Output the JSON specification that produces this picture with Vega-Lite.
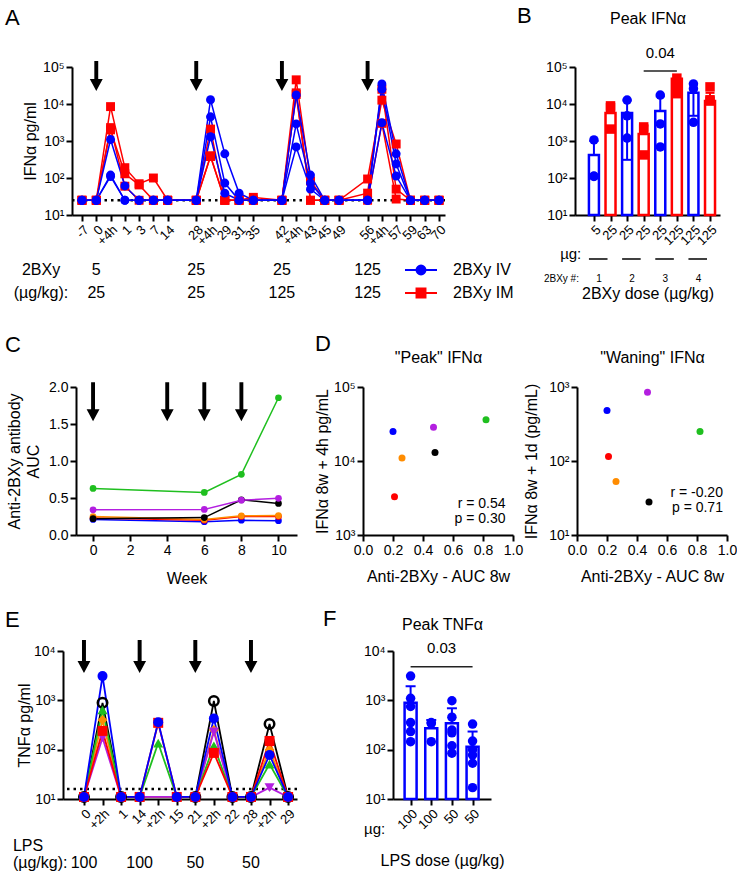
{
"$schema":"https://vega.github.io/schema/vega-lite/v6.json",
"background":"white",
"padding":5,
"spacing":31,
"resolve":{"scale":{"color":"independent","shape":"independent","stroke":"independent","fill":"independent","strokeWidth":"independent"},"legend":{"color":"independent","shape":"independent","stroke":"independent","fill":"independent"}},
"vconcat":[
{"hconcat":[
{"width":9,"height":1,"data":{"values":[]},"mark":"point"},
{"hconcat":[
{"width":373,"height":148,
"title":{"text":"A","dx":-67,"offset":30},
"layer":[
{"data":{"values":[{}]},"mark":{"type":"rule","strokeDash":[2.5,4],"strokeWidth":2.5,"color":"#000"},"encoding":{"y":{"datum":25,"axis":null}}},
{"data":{"name":"A"},"mark":{"type":"line","strokeWidth":1.5},
"encoding":{
"x":{"field":"p","type":"quantitative","scale":{"domain":[-0.7,25.42],"nice":false,"zero":false},
"axis":{"values":[0,1,2,3,4,5,6,8,9,10,11,12,14,15,16,17,18,20,21,22,23,24,25],"labelExpr":"['-7','0','+4h','1','3','7','14','','28','+4h','29','31','35','','42','+4h','43','45','49','','56','+4h','57','59','63','70'][datum.value]","labelAngle":-45,"labelFontSize":13,"labelOverlap":false,"title":null}},
"y":{"field":"v","type":"quantitative","scale":{"type":"log","domain":[10,100000],"nice":false},"axis":{"values":[10,100,1000,10000,100000],"labelExpr":"'10' + ['⁰','¹','²','³','⁴','⁵','⁶'][round(log(datum.value)/LN10)]","labelOverlap":false,"title":"IFNα pg/ml","titlePadding":4}},
"color":{"field":"r","type":"nominal","scale":{"domain":["IV","IM"],"range":["#0000ff","#ff0000"]},"legend":null},
"detail":{"field":"a","type":"nominal"}}},
{"data":{"name":"A"},"mark":{"type":"point","filled":true,"size":80,"opacity":1},
"encoding":{
"x":{"field":"p","type":"quantitative","axis":null},
"y":{"field":"v","type":"quantitative","axis":null},
"color":{"field":"r","type":"nominal","legend":null},
"shape":{"field":"r","type":"nominal","scale":{"domain":["IV","IM"],"range":["circle","square"]},"legend":null}}},
{"data":{"name":"A"},"transform":[{"filter":"false"}],"mark":{"type":"point","filled":true,"opacity":1,"strokeWidth":2},
"encoding":{
"x":{"field":"p","type":"quantitative","axis":null},
"y":{"field":"v","type":"quantitative","axis":null},
"fill":{"field":"r","type":"nominal","scale":{"domain":["IV","IM"],"range":["#0000ff","#ff0000"]},"legend":{"orient":"none","legendX":340,"legendY":194,"title":null,"labelFontSize":16,"symbolSize":256,"rowPadding":5,"labelOffset":23,"padding":0,"symbolStrokeWidth":2,"symbolOpacity":1,"labelExpr":"'2BXy ' + datum.label"}},
"stroke":{"field":"r","type":"nominal","scale":{"domain":["IV","IM"],"range":["#0000ff","#ff0000"]},"legend":{"orient":"none","legendX":340,"legendY":194,"title":null,"labelFontSize":16,"symbolSize":256,"rowPadding":5,"labelOffset":23,"padding":0,"symbolStrokeWidth":2,"symbolOpacity":1,"labelExpr":"'2BXy ' + datum.label"}},
"shape":{"field":"r","type":"nominal","scale":{"domain":["IV","IM"],"range":["M-2,0L2,0M0.56,0A0.56,0.56,0,1,1,-0.56,0A0.56,0.56,0,1,1,0.56,0Z","M-2,0L2,0M-0.56,-0.56L0.56,-0.56L0.56,0.56L-0.56,0.56Z"]},"legend":{"orient":"none","legendX":340,"legendY":194,"title":null,"labelFontSize":16,"symbolSize":256,"rowPadding":5,"labelOffset":23,"padding":0,"symbolStrokeWidth":2,"symbolOpacity":1,"labelExpr":"'2BXy ' + datum.label"}}}},
{"data":{"name":"A_doses"},"mark":{"type":"point","shape":"M-0.13,-1L0.13,-1L0.13,0.2L0.43,0.2L0,1L-0.43,0.2L-0.13,0.2Z","size":900,"filled":true,"color":"#000","opacity":1,"strokeWidth":0},
"encoding":{"x":{"field":"p","type":"quantitative","axis":null},"y":{"datum":57000,"axis":null}}},
{"data":{"name":"A_doses"},"mark":{"type":"text","fontSize":16},"encoding":{"x":{"field":"p","type":"quantitative","axis":null},"y":{"datum":0.327,"axis":null},"text":{"field":"iv"}}},
{"data":{"name":"A_doses"},"mark":{"type":"text","fontSize":16},"encoding":{"x":{"field":"p","type":"quantitative","axis":null},"y":{"datum":0.078,"axis":null},"text":{"field":"im"}}},
{"data":{"values":[{"t":"2BXy"}]},"mark":{"type":"text","fontSize":16},"encoding":{"x":{"datum":-2.87,"axis":null},"y":{"datum":0.327,"axis":null},"text":{"field":"t"}}},
{"data":{"values":[{"t":"(µg/kg):"}]},"mark":{"type":"text","fontSize":16},"encoding":{"x":{"datum":-2.87,"axis":null},"y":{"datum":0.078,"axis":null},"text":{"field":"t"}}}
],
"resolve":{"axis":{"x":"independent","y":"independent"},"scale":{"shape":"independent","fill":"independent","stroke":"independent"},"legend":{"shape":"independent","fill":"independent","stroke":"independent"}}},
{"width":145,"height":148,
"title":{"text":"B","dx":-58,"dy":18,"offset":0},
"layer":[
{"data":{"name":"B_bars"},"mark":{"type":"bar","fill":"#fff","strokeWidth":2.5,"width":10},
"encoding":{
"x":{"field":"pos","type":"quantitative","scale":{"domain":[0.16,8.3],"nice":false,"zero":false},"axis":{"values":[1,2,3,4,5,6,7,8],"labelExpr":"['5','25','25','25','25','125','125','125'][datum.value-1]","labelAngle":-45,"labelFontSize":13,"labelOverlap":false,"title":"2BXy dose (µg/kg)","titlePadding":38}},
"y":{"field":"mean","type":"quantitative","scale":{"type":"log","domain":[10,100000],"nice":false},"axis":{"values":[10,100,1000,10000,100000],"labelExpr":"'10' + ['⁰','¹','²','³','⁴','⁵','⁶'][round(log(datum.value)/LN10)]","labelOverlap":false,"title":null}},
"y2":{"datum":10},
"stroke":{"field":"route","type":"nominal","scale":{"domain":["IV","IM"],"range":["#0000ff","#ff0000"]},"legend":null}}},
{"data":{"name":"B_bars"},"mark":{"type":"rule","strokeWidth":2},
"encoding":{"x":{"field":"pos","type":"quantitative","axis":null},"y":{"field":"lo","type":"quantitative"},"y2":{"field":"hi"},
"color":{"field":"route","type":"nominal","scale":{"domain":["IV","IM"],"range":["#0000ff","#ff0000"]},"legend":null}}},
{"data":{"name":"B_bars"},"mark":{"type":"tick","orient":"horizontal","size":9,"thickness":2,"opacity":1},
"encoding":{"x":{"field":"pos","type":"quantitative","axis":null},"y":{"field":"hi","type":"quantitative"},"color":{"field":"route","type":"nominal","legend":null}}},
{"data":{"name":"B_bars"},"transform":[{"filter":"datum.lo < datum.mean"}],"mark":{"type":"tick","orient":"horizontal","size":9,"thickness":2,"opacity":1},
"encoding":{"x":{"field":"pos","type":"quantitative","axis":null},"y":{"field":"lo","type":"quantitative"},"color":{"field":"route","type":"nominal","legend":null}}},
{"data":{"name":"B_pts"},"mark":{"type":"point","filled":true,"size":90,"opacity":1},
"encoding":{"x":{"field":"pos","type":"quantitative","axis":null},"y":{"field":"v","type":"quantitative"},"color":{"field":"route","type":"nominal","legend":null},
"shape":{"field":"route","type":"nominal","scale":{"domain":["IV","IM"],"range":["circle","square"]},"legend":null}}},
{"data":{"values":[{"from":4,"to":6}]},"mark":{"type":"rule","strokeWidth":1.5,"color":"#222"},
"encoding":{"x":{"field":"from","type":"quantitative","axis":{"orient":"top","title":"Peak IFNα","labels":false,"ticks":false,"domain":false,"titlePadding":41,"titleFontSize":16}},"x2":{"field":"to"},"y":{"datum":78000}}},
{"data":{"values":[{"t":"0.04"}]},"mark":{"type":"text","fontSize":15},"encoding":{"x":{"datum":5,"axis":null},"y":{"datum":240000},"text":{"field":"t"}}},
{"data":{"values":[{"t":"µg:"}]},"mark":{"type":"text","fontSize":15},"encoding":{"x":{"datum":-0.4,"axis":null},"y":{"datum":0.88},"text":{"field":"t"}}},
{"data":{"values":[{"t":"2BXy #:"}]},"mark":{"type":"text","fontSize":10},"encoding":{"x":{"datum":-0.96,"axis":null},"y":{"datum":0.186},"text":{"field":"t"}}},
{"data":{"name":"B_groups"},"mark":{"type":"rule","strokeWidth":1.5,"color":"#000","xOffset":-5,"x2Offset":-3},"encoding":{"x":{"field":"from","type":"quantitative","axis":null},"x2":{"field":"to"},"y":{"datum":0.647}}},
{"data":{"name":"B_groups"},"mark":{"type":"text","fontSize":10,"dx":5},"encoding":{"x":{"field":"from","type":"quantitative","axis":null},"y":{"datum":0.186},"text":{"field":"g"}}}
],
"resolve":{"axis":{"x":"independent"}}}
],"spacing":130,"bounds":"flush","resolve":{"scale":{"color":"independent","shape":"independent","stroke":"independent","fill":"independent"},"legend":{"color":"independent","shape":"independent","stroke":"independent","fill":"independent"}}}
],"spacing":0,"bounds":"flush","resolve":{"scale":{"color":"independent","shape":"independent","stroke":"independent","fill":"independent"},"legend":{"color":"independent","shape":"independent","stroke":"independent","fill":"independent"}}},
{"vconcat":[
{"hconcat":[
{"width":13,"height":1,"data":{"values":[]},"mark":"point"},
{"hconcat":[
{"width":221,"height":148,
"title":{"text":"C","dx":-71,"offset":23},
"layer":[
{"data":{"name":"C"},"mark":{"type":"line"},
"encoding":{
"x":{"field":"week","type":"quantitative","scale":{"domain":[-0.92,11],"nice":false,"zero":false},"axis":{"values":[0,2,4,6,8,10],"labelOverlap":false,"title":"Week","titlePadding":13}},
"y":{"field":"auc","type":"quantitative","scale":{"domain":[0,2],"nice":false},"axis":{"values":[0,0.5,1,1.5,2],"format":".1f","labelOverlap":false,"title":["Anti-2BXy antibody","AUC"],"titlePadding":7,"titleLineHeight":19}},
"color":{"field":"a","type":"nominal","scale":{"domain":["blu","red","org","blk","pur","grn"],"range":["#0000ff","#ff0000","#ff8c00","#000000","#b31fe0","#1fbf1f"]},"legend":null},
"strokeWidth":{"field":"a","type":"nominal","scale":{"domain":["blu","red","org","blk","pur","grn"],"range":[1.5,1.5,3.5,3.5,1.5,1.5]},"legend":null}}},
{"data":{"name":"C"},"mark":{"type":"point","filled":true,"size":45,"opacity":1},
"encoding":{"x":{"field":"week","type":"quantitative","axis":null},"y":{"field":"auc","type":"quantitative","axis":null},"color":{"field":"a","type":"nominal","legend":null}}},
{"data":{"name":"C_arrows"},"mark":{"type":"point","shape":"M-0.1,-1L0.1,-1L0.1,0.38L0.33,0.38L0,1L-0.33,0.38L-0.1,0.38Z","size":1521,"filled":true,"color":"#000","opacity":1,"strokeWidth":0},
"encoding":{"x":{"field":"week","type":"quantitative","axis":null},"y":{"datum":1.8,"axis":null}}}
],
"resolve":{"axis":{"x":"independent","y":"independent"}}},
{"hconcat":[
{"width":150,"height":148,
"title":{"text":"D","dx":-48,"dy":7,"offset":0},
"layer":[
{"data":{"name":"D"},"mark":{"type":"point","filled":true,"size":49,"opacity":1},
"encoding":{
"x":{"field":"auc8","type":"quantitative","scale":{"domain":[0,1],"nice":false},"axis":{"values":[0,0.2,0.4,0.6,0.8,1],"format":".1f","labelOverlap":false,"title":"Anti-2BXy - AUC 8w","titlePadding":11}},
"y":{"field":"peak","type":"quantitative","scale":{"type":"log","domain":[1000,100000],"nice":false},"axis":{"values":[1000,10000,100000],"labelExpr":"'10' + ['⁰','¹','²','³','⁴','⁵','⁶'][round(log(datum.value)/LN10)]","labelOverlap":false,"title":"IFNα 8w + 4h pg/mL","titlePadding":3}},
"color":{"field":"a","type":"nominal","scale":{"domain":["blu","red","org","blk","pur","grn"],"range":["#0000ff","#ff0000","#ff8c00","#000000","#b31fe0","#1fbf1f"]},"legend":null}}},
{"data":{"values":[{"t":"r = 0.54\np = 0.30"}]},"mark":{"type":"text","fontSize":14,"align":"right","lineBreak":"\n","lineHeight":15},
"encoding":{"x":{"datum":0.95,"axis":{"orient":"top","title":"\"Peak\" IFNα","labels":false,"ticks":false,"domain":false,"titlePadding":22,"titleFontSize":16}},"y":{"datum":2625},"text":{"field":"t"}}}
],
"resolve":{"axis":{"x":"independent"}}},
{"width":150,"height":148,
"layer":[
{"data":{"name":"D"},"mark":{"type":"point","filled":true,"size":49,"opacity":1},
"encoding":{
"x":{"field":"auc8","type":"quantitative","scale":{"domain":[0,1],"nice":false},"axis":{"values":[0,0.2,0.4,0.6,0.8,1],"format":".1f","labelOverlap":false,"title":"Anti-2BXy - AUC 8w","titlePadding":11}},
"y":{"field":"wane","type":"quantitative","scale":{"type":"log","domain":[10,1000],"nice":false},"axis":{"values":[10,100,1000],"labelExpr":"'10' + ['⁰','¹','²','³','⁴','⁵','⁶'][round(log(datum.value)/LN10)]","labelOverlap":false,"title":"IFNα 8w + 1d (pg/mL)","titlePadding":9}},
"color":{"field":"a","type":"nominal","scale":{"domain":["blu","red","org","blk","pur","grn"],"range":["#0000ff","#ff0000","#ff8c00","#000000","#b31fe0","#1fbf1f"]},"legend":null}}},
{"data":{"values":[{"t":"r = -0.20\np = 0.71"}]},"mark":{"type":"text","fontSize":14,"align":"right","lineBreak":"\n","lineHeight":15},
"encoding":{"x":{"datum":0.973,"axis":{"orient":"top","title":"\"Waning\" IFNα","labels":false,"ticks":false,"domain":false,"titlePadding":22,"titleFontSize":16}},"y":{"datum":37},"text":{"field":"t"}}}
],
"resolve":{"axis":{"x":"independent"}}}
],"spacing":64,"bounds":"flush","resolve":{"scale":{"color":"independent","shape":"independent"},"legend":{"color":"independent"}}}
],"spacing":66,"bounds":"flush","resolve":{"scale":{"color":"independent","shape":"independent","strokeWidth":"independent"},"legend":{"color":"independent"}}}
],"spacing":0,"bounds":"flush","resolve":{"scale":{"color":"independent","shape":"independent","strokeWidth":"independent"},"legend":{"color":"independent"}}},
{"hconcat":[
{"width":234,"height":148,
"title":{"text":"E","dx":-58,"offset":8},
"layer":[
{"data":{"values":[{}]},"mark":{"type":"rule","strokeDash":[2.5,4],"strokeWidth":2.5,"color":"#000"},"encoding":{"y":{"datum":16,"axis":null}}},
{"data":{"name":"E"},"mark":{"type":"line","strokeWidth":1.8},
"encoding":{
"x":{"field":"p","type":"quantitative","scale":{"domain":[-1.13,11.48],"nice":false,"zero":false},"axis":{"values":[0,1,2,3,4,5,6,7,8,9,10,11],"labelExpr":"['0','+2h','1','14','+2h','15','21','+2h','22','28','+2h','29'][datum.value]","labelAngle":-45,"labelFontSize":13,"labelOverlap":false,"title":null}},
"y":{"field":"v","type":"quantitative","scale":{"type":"log","domain":[10,10000],"nice":false},"axis":{"values":[10,100,1000,10000],"labelExpr":"'10' + ['⁰','¹','²','³','⁴','⁵','⁶'][round(log(datum.value)/LN10)]","labelOverlap":false,"title":"TNFα pg/ml","titlePadding":1}},
"color":{"field":"a","type":"nominal","scale":{"domain":["blk","org","pur","grn","red","blu"],"range":["#000000","#ff8c00","#b31fe0","#1fbf1f","#ff0000","#0000ff"]},"legend":null}}},
{"data":{"name":"E"},"transform":[{"filter":"datum.a === 'blk'"}],"mark":{"type":"point","filled":false,"size":90,"strokeWidth":2.5,"opacity":1,"color":"#000"},
"encoding":{"x":{"field":"p","type":"quantitative","axis":null},"y":{"field":"v","type":"quantitative","axis":null}}},
{"data":{"name":"E"},"transform":[{"filter":"datum.a !== 'blk'"}],"mark":{"type":"point","filled":true,"size":100,"opacity":1},
"encoding":{"x":{"field":"p","type":"quantitative","axis":null},"y":{"field":"v","type":"quantitative","axis":null},"color":{"field":"a","type":"nominal","legend":null},
"shape":{"field":"a","type":"nominal","scale":{"domain":["blk","org","pur","grn","red","blu"],"range":["circle","diamond","triangle-down","triangle-up","square","circle"]},"legend":null}}},
{"data":{"name":"E_doses"},"mark":{"type":"point","shape":"M-0.12,-1L0.12,-1L0.12,0.27L0.39,0.27L0,1L-0.39,0.27L-0.12,0.27Z","size":1089,"filled":true,"color":"#000","opacity":1,"strokeWidth":0},
"encoding":{"x":{"field":"p","type":"quantitative","axis":null},"y":{"datum":7760,"axis":null}}},
{"data":{"name":"E_doses"},"mark":{"type":"text","fontSize":16},"encoding":{"x":{"field":"p","type":"quantitative","axis":null},"y":{"datum":0.503,"axis":null},"text":{"field":"dose"}}},
{"data":{"values":[{"t":"LPS"}]},"mark":{"type":"text","fontSize":16,"align":"left"},"encoding":{"x":{"datum":-3.83,"axis":null},"y":{"datum":1.11,"axis":null},"text":{"field":"t"}}},
{"data":{"values":[{"t":"(µg/kg):"}]},"mark":{"type":"text","fontSize":16,"align":"left"},"encoding":{"x":{"datum":-3.83,"axis":null},"y":{"datum":0.503,"axis":null},"text":{"field":"t"}}}
],
"resolve":{"axis":{"x":"independent","y":"independent"}}},
{"width":98,"height":148,
"title":{"text":"F","dx":-70,"dy":15,"offset":0},
"layer":[
{"data":{"name":"F_bars"},"mark":{"type":"bar","fill":"#fff","stroke":"#0000ff","strokeWidth":2.5,"width":12},
"encoding":{
"x":{"field":"pos","type":"quantitative","scale":{"domain":[0.39,4.65],"nice":false,"zero":false},"axis":{"values":[1,2,3,4],"labelExpr":"['100','100','50','50'][datum.value-1]","labelAngle":-45,"labelFontSize":13,"labelOverlap":false,"title":"LPS dose (µg/kg)","titlePadding":21}},
"y":{"field":"mean","type":"quantitative","scale":{"type":"log","domain":[10,10000],"nice":false},"axis":{"values":[10,100,1000,10000],"labelExpr":"'10' + ['⁰','¹','²','³','⁴','⁵','⁶'][round(log(datum.value)/LN10)]","labelOverlap":false,"title":null}},
"y2":{"datum":10}}},
{"data":{"name":"F_bars"},"mark":{"type":"rule","strokeWidth":2,"color":"#0000ff"},
"encoding":{"x":{"field":"pos","type":"quantitative","axis":null},"y":{"field":"mean","type":"quantitative"},"y2":{"field":"hi"}}},
{"data":{"name":"F_bars"},"mark":{"type":"tick","orient":"horizontal","size":10,"thickness":2,"color":"#0000ff","opacity":1},
"encoding":{"x":{"field":"pos","type":"quantitative","axis":null},"y":{"field":"hi","type":"quantitative"}}},
{"data":{"name":"F_pts"},"mark":{"type":"point","filled":true,"size":90,"opacity":1,"color":"#0000ff"},
"encoding":{"x":{"field":"pos","type":"quantitative","axis":null},"y":{"field":"v","type":"quantitative"}}},
{"data":{"values":[{"from":1,"to":4}]},"mark":{"type":"rule","strokeWidth":1.5,"color":"#222"},
"encoding":{"x":{"field":"from","type":"quantitative","axis":{"orient":"top","title":"Peak TNFα","labels":false,"ticks":false,"domain":false,"titlePadding":19,"titleFontSize":16}},"x2":{"field":"to"},"y":{"datum":4800}}},
{"data":{"values":[{"t":"0.03"}]},"mark":{"type":"text","fontSize":15},"encoding":{"x":{"datum":2.5,"axis":null},"y":{"datum":11500},"text":{"field":"t"}}},
{"data":{"values":[{"t":"µg:"}]},"mark":{"type":"text","fontSize":15},"encoding":{"x":{"datum":-0.74,"axis":null},"y":{"datum":2.43},"text":{"field":"t"}}}
],
"resolve":{"axis":{"x":"independent"}}}
],"spacing":96,"bounds":"flush","resolve":{"scale":{"color":"independent","shape":"independent"},"legend":{"color":"independent","shape":"independent"}}}
],"spacing":22,"resolve":{"scale":{"color":"independent","shape":"independent","strokeWidth":"independent"},"legend":{"color":"independent","shape":"independent"}}}
],
"datasets":{
"A":[
{"a":"IM1","r":"IM","p":0,"v":25},{"a":"IM1","r":"IM","p":1,"v":25},{"a":"IM1","r":"IM","p":2,"v":8500},{"a":"IM1","r":"IM","p":3,"v":190},{"a":"IM1","r":"IM","p":4,"v":70},{"a":"IM1","r":"IM","p":5,"v":100},{"a":"IM1","r":"IM","p":6,"v":25},{"a":"IM1","r":"IM","p":8,"v":25},{"a":"IM1","r":"IM","p":9,"v":2100},{"a":"IM1","r":"IM","p":10,"v":25},{"a":"IM1","r":"IM","p":11,"v":25},{"a":"IM1","r":"IM","p":12,"v":30},{"a":"IM1","r":"IM","p":14,"v":25},{"a":"IM1","r":"IM","p":15,"v":45000},{"a":"IM1","r":"IM","p":16,"v":83},{"a":"IM1","r":"IM","p":17,"v":25},{"a":"IM1","r":"IM","p":18,"v":25},{"a":"IM1","r":"IM","p":20,"v":94},{"a":"IM1","r":"IM","p":21,"v":12700},{"a":"IM1","r":"IM","p":22,"v":830},{"a":"IM1","r":"IM","p":23,"v":25},{"a":"IM1","r":"IM","p":24,"v":25},{"a":"IM1","r":"IM","p":25,"v":25},
{"a":"IM2","r":"IM","p":0,"v":25},{"a":"IM2","r":"IM","p":1,"v":25},{"a":"IM2","r":"IM","p":2,"v":2000},{"a":"IM2","r":"IM","p":3,"v":130},{"a":"IM2","r":"IM","p":4,"v":65},{"a":"IM2","r":"IM","p":5,"v":25},{"a":"IM2","r":"IM","p":6,"v":25},{"a":"IM2","r":"IM","p":8,"v":25},{"a":"IM2","r":"IM","p":9,"v":400},{"a":"IM2","r":"IM","p":10,"v":25},{"a":"IM2","r":"IM","p":11,"v":25},{"a":"IM2","r":"IM","p":12,"v":25},{"a":"IM2","r":"IM","p":14,"v":25},{"a":"IM2","r":"IM","p":15,"v":20000},{"a":"IM2","r":"IM","p":16,"v":25},{"a":"IM2","r":"IM","p":17,"v":25},{"a":"IM2","r":"IM","p":18,"v":25},{"a":"IM2","r":"IM","p":20,"v":39},{"a":"IM2","r":"IM","p":21,"v":25000},{"a":"IM2","r":"IM","p":22,"v":50},{"a":"IM2","r":"IM","p":23,"v":25},{"a":"IM2","r":"IM","p":24,"v":25},{"a":"IM2","r":"IM","p":25,"v":25},
{"a":"IM3","r":"IM","p":0,"v":25},{"a":"IM3","r":"IM","p":1,"v":25},{"a":"IM3","r":"IM","p":2,"v":2300},{"a":"IM3","r":"IM","p":3,"v":60},{"a":"IM3","r":"IM","p":4,"v":25},{"a":"IM3","r":"IM","p":5,"v":25},{"a":"IM3","r":"IM","p":6,"v":25},{"a":"IM3","r":"IM","p":8,"v":25},{"a":"IM3","r":"IM","p":9,"v":380},{"a":"IM3","r":"IM","p":10,"v":25},{"a":"IM3","r":"IM","p":11,"v":25},{"a":"IM3","r":"IM","p":12,"v":25},{"a":"IM3","r":"IM","p":14,"v":25},{"a":"IM3","r":"IM","p":15,"v":18000},{"a":"IM3","r":"IM","p":16,"v":25},{"a":"IM3","r":"IM","p":17,"v":25},{"a":"IM3","r":"IM","p":18,"v":25},{"a":"IM3","r":"IM","p":20,"v":25},{"a":"IM3","r":"IM","p":21,"v":3000},{"a":"IM3","r":"IM","p":22,"v":27},{"a":"IM3","r":"IM","p":23,"v":25},{"a":"IM3","r":"IM","p":24,"v":25},{"a":"IM3","r":"IM","p":25,"v":25},
{"a":"IV1","r":"IV","p":0,"v":25},{"a":"IV1","r":"IV","p":1,"v":25},{"a":"IV1","r":"IV","p":2,"v":1100},{"a":"IV1","r":"IV","p":3,"v":61},{"a":"IV1","r":"IV","p":4,"v":25},{"a":"IV1","r":"IV","p":5,"v":25},{"a":"IV1","r":"IV","p":6,"v":25},{"a":"IV1","r":"IV","p":8,"v":25},{"a":"IV1","r":"IV","p":9,"v":13000},{"a":"IV1","r":"IV","p":10,"v":450},{"a":"IV1","r":"IV","p":11,"v":39},{"a":"IV1","r":"IV","p":12,"v":25},{"a":"IV1","r":"IV","p":14,"v":25},{"a":"IV1","r":"IV","p":15,"v":17500},{"a":"IV1","r":"IV","p":16,"v":120},{"a":"IV1","r":"IV","p":17,"v":25},{"a":"IV1","r":"IV","p":18,"v":25},{"a":"IV1","r":"IV","p":20,"v":25},{"a":"IV1","r":"IV","p":21,"v":34700},{"a":"IV1","r":"IV","p":22,"v":450},{"a":"IV1","r":"IV","p":23,"v":25},{"a":"IV1","r":"IV","p":24,"v":25},{"a":"IV1","r":"IV","p":25,"v":25},
{"a":"IV2","r":"IV","p":0,"v":25},{"a":"IV2","r":"IV","p":1,"v":25},{"a":"IV2","r":"IV","p":2,"v":110},{"a":"IV2","r":"IV","p":3,"v":25},{"a":"IV2","r":"IV","p":4,"v":25},{"a":"IV2","r":"IV","p":5,"v":25},{"a":"IV2","r":"IV","p":6,"v":25},{"a":"IV2","r":"IV","p":8,"v":25},{"a":"IV2","r":"IV","p":9,"v":4500},{"a":"IV2","r":"IV","p":10,"v":73},{"a":"IV2","r":"IV","p":11,"v":25},{"a":"IV2","r":"IV","p":12,"v":25},{"a":"IV2","r":"IV","p":14,"v":25},{"a":"IV2","r":"IV","p":15,"v":2900},{"a":"IV2","r":"IV","p":16,"v":73},{"a":"IV2","r":"IV","p":17,"v":25},{"a":"IV2","r":"IV","p":18,"v":25},{"a":"IV2","r":"IV","p":20,"v":25},{"a":"IV2","r":"IV","p":21,"v":25000},{"a":"IV2","r":"IV","p":22,"v":240},{"a":"IV2","r":"IV","p":23,"v":25},{"a":"IV2","r":"IV","p":24,"v":25},{"a":"IV2","r":"IV","p":25,"v":25},
{"a":"IV3","r":"IV","p":0,"v":25},{"a":"IV3","r":"IV","p":1,"v":25},{"a":"IV3","r":"IV","p":2,"v":120},{"a":"IV3","r":"IV","p":3,"v":25},{"a":"IV3","r":"IV","p":4,"v":25},{"a":"IV3","r":"IV","p":5,"v":25},{"a":"IV3","r":"IV","p":6,"v":25},{"a":"IV3","r":"IV","p":8,"v":25},{"a":"IV3","r":"IV","p":9,"v":1300},{"a":"IV3","r":"IV","p":10,"v":39},{"a":"IV3","r":"IV","p":11,"v":25},{"a":"IV3","r":"IV","p":12,"v":25},{"a":"IV3","r":"IV","p":14,"v":25},{"a":"IV3","r":"IV","p":15,"v":690},{"a":"IV3","r":"IV","p":16,"v":50},{"a":"IV3","r":"IV","p":17,"v":25},{"a":"IV3","r":"IV","p":18,"v":25},{"a":"IV3","r":"IV","p":20,"v":25},{"a":"IV3","r":"IV","p":21,"v":3100},{"a":"IV3","r":"IV","p":22,"v":113},{"a":"IV3","r":"IV","p":23,"v":25},{"a":"IV3","r":"IV","p":24,"v":25},{"a":"IV3","r":"IV","p":25,"v":25}
],
"A_doses":[{"p":1,"iv":"5","im":"25"},{"p":8,"iv":"25","im":"25"},{"p":14,"iv":"25","im":"125"},{"p":20,"iv":"125","im":"125"}],
"B_bars":[
{"pos":1,"route":"IV","mean":420,"lo":420,"hi":1000},
{"pos":2,"route":"IM","mean":5700,"lo":5700,"hi":9500},
{"pos":3,"route":"IV","mean":5700,"lo":310,"hi":12500},
{"pos":4,"route":"IM","mean":1550,"lo":1550,"hi":2600},
{"pos":5,"route":"IV","mean":6500,"lo":6500,"hi":16000},
{"pos":6,"route":"IM","mean":48000,"lo":48000,"hi":48000},
{"pos":7,"route":"IV","mean":20000,"lo":4800,"hi":34000},
{"pos":8,"route":"IM","mean":12000,"lo":12000,"hi":20000}],
"B_pts":[
{"pos":1,"route":"IV","v":1070},{"pos":1,"route":"IV","v":113},{"pos":1,"route":"IV","v":110},
{"pos":2,"route":"IM","v":8900},{"pos":2,"route":"IM","v":8000},{"pos":2,"route":"IM","v":2100},
{"pos":3,"route":"IV","v":12800},{"pos":3,"route":"IV","v":4800},{"pos":3,"route":"IV","v":1200},
{"pos":4,"route":"IM","v":2400},{"pos":4,"route":"IM","v":2100},{"pos":4,"route":"IM","v":420},
{"pos":5,"route":"IV","v":17400},{"pos":5,"route":"IV","v":2900},{"pos":5,"route":"IV","v":690},
{"pos":6,"route":"IM","v":50000},{"pos":6,"route":"IM","v":30000},{"pos":6,"route":"IM","v":19000},
{"pos":7,"route":"IV","v":35000},{"pos":7,"route":"IV","v":26000},{"pos":7,"route":"IV","v":3200},
{"pos":8,"route":"IM","v":29000},{"pos":8,"route":"IM","v":13000},{"pos":8,"route":"IM","v":12000}],
"B_groups":[{"g":"1","from":1,"to":2},{"g":"2","from":3,"to":4},{"g":"3","from":5,"to":6},{"g":"4","from":7,"to":8}],
"C":[
{"a":"blu","week":0,"auc":0.21},{"a":"blu","week":6,"auc":0.18},{"a":"blu","week":8,"auc":0.2},{"a":"blu","week":10,"auc":0.193},
{"a":"red","week":0,"auc":0.23},{"a":"red","week":6,"auc":0.2},{"a":"red","week":8,"auc":0.25},{"a":"red","week":10,"auc":0.25},
{"a":"org","week":0,"auc":0.25},{"a":"org","week":6,"auc":0.21},{"a":"org","week":8,"auc":0.26},{"a":"org","week":10,"auc":0.262},
{"a":"blk","week":0,"auc":0.22},{"a":"blk","week":6,"auc":0.235},{"a":"blk","week":8,"auc":0.475},{"a":"blk","week":10,"auc":0.427},
{"a":"pur","week":0,"auc":0.34},{"a":"pur","week":6,"auc":0.346},{"a":"pur","week":8,"auc":0.47},{"a":"pur","week":10,"auc":0.495},
{"a":"grn","week":0,"auc":0.63},{"a":"grn","week":6,"auc":0.575},{"a":"grn","week":8,"auc":0.82},{"a":"grn","week":10,"auc":1.855}],
"C_arrows":[{"week":0},{"week":4},{"week":6},{"week":8}],
"D":[
{"a":"blu","auc8":0.2,"peak":25000,"wane":480},
{"a":"red","auc8":0.21,"peak":3300,"wane":115},
{"a":"org","auc8":0.26,"peak":11000,"wane":53},
{"a":"pur","auc8":0.47,"peak":28500,"wane":850},
{"a":"blk","auc8":0.48,"peak":13000,"wane":28},
{"a":"grn","auc8":0.82,"peak":36000,"wane":250}],
"E":[
{"a":"blk","p":0,"v":11},{"a":"blk","p":1,"v":890},{"a":"blk","p":2,"v":11},{"a":"blk","p":6,"v":11},{"a":"blk","p":7,"v":970},{"a":"blk","p":8,"v":11},{"a":"blk","p":9,"v":11},{"a":"blk","p":10,"v":330},{"a":"blk","p":11,"v":11},
{"a":"org","p":0,"v":11},{"a":"org","p":1,"v":400},{"a":"org","p":2,"v":11},{"a":"org","p":6,"v":11},{"a":"org","p":7,"v":250},{"a":"org","p":8,"v":11},{"a":"org","p":9,"v":11},{"a":"org","p":10,"v":100},{"a":"org","p":11,"v":11},
{"a":"pur","p":0,"v":11},{"a":"pur","p":1,"v":175},{"a":"pur","p":2,"v":11},{"a":"pur","p":6,"v":11},{"a":"pur","p":7,"v":230},{"a":"pur","p":8,"v":11},{"a":"pur","p":9,"v":11},{"a":"pur","p":10,"v":17},{"a":"pur","p":11,"v":11},
{"a":"grn","p":0,"v":11},{"a":"grn","p":1,"v":640},{"a":"grn","p":2,"v":11},{"a":"grn","p":3,"v":11},{"a":"grn","p":4,"v":136},{"a":"grn","p":5,"v":11},{"a":"grn","p":6,"v":11},{"a":"grn","p":7,"v":120},{"a":"grn","p":8,"v":11},{"a":"grn","p":9,"v":11},{"a":"grn","p":10,"v":51},{"a":"grn","p":11,"v":11},
{"a":"red","p":0,"v":11},{"a":"red","p":1,"v":240},{"a":"red","p":2,"v":11},{"a":"red","p":3,"v":11},{"a":"red","p":4,"v":350},{"a":"red","p":5,"v":11},{"a":"red","p":6,"v":11},{"a":"red","p":7,"v":86},{"a":"red","p":8,"v":11},{"a":"red","p":9,"v":11},{"a":"red","p":10,"v":150},{"a":"red","p":11,"v":11},
{"a":"blu","p":0,"v":11},{"a":"blu","p":1,"v":3100},{"a":"blu","p":2,"v":11},{"a":"blu","p":3,"v":11},{"a":"blu","p":4,"v":360},{"a":"blu","p":5,"v":11},{"a":"blu","p":6,"v":11},{"a":"blu","p":7,"v":430},{"a":"blu","p":8,"v":11},{"a":"blu","p":9,"v":11},{"a":"blu","p":10,"v":78},{"a":"blu","p":11,"v":11}],
"E_doses":[{"p":0,"dose":"100"},{"p":3,"dose":"100"},{"p":6,"dose":"50"},{"p":9,"dose":"50"}],
"F_bars":[{"pos":1,"mean":890,"hi":1930},{"pos":2,"mean":272,"hi":400},{"pos":3,"mean":345,"hi":690},{"pos":4,"mean":115,"hi":233}],
"F_pts":[
{"pos":1,"v":3100},{"pos":1,"v":1100},{"pos":1,"v":750},{"pos":1,"v":355},{"pos":1,"v":233},{"pos":1,"v":145},
{"pos":2,"v":355},{"pos":2,"v":340},{"pos":2,"v":145},
{"pos":3,"v":980},{"pos":3,"v":455},{"pos":3,"v":250},{"pos":3,"v":220},{"pos":3,"v":120},{"pos":3,"v":85},
{"pos":4,"v":330},{"pos":4,"v":150},{"pos":4,"v":100},{"pos":4,"v":78},{"pos":4,"v":53},{"pos":4,"v":17}]
},
"config":{
"font":"Liberation Sans",
"view":{"stroke":null},
"axis":{"domainColor":"#000","domainWidth":2,"tickColor":"#000","tickWidth":2,"tickSize":6,"labelColor":"#000","labelFontSize":14,"titleFontSize":16,"titleFontWeight":"normal","titleColor":"#000","grid":false,"labelPadding":2,"labelOverlap":false,"labelFlush":false,"labelBound":false},
"title":{"fontSize":22,"fontWeight":"normal","anchor":"start","frame":"group","color":"#000"},
"text":{"color":"#000"},
"legend":{"labelColor":"#000"}
}
}
